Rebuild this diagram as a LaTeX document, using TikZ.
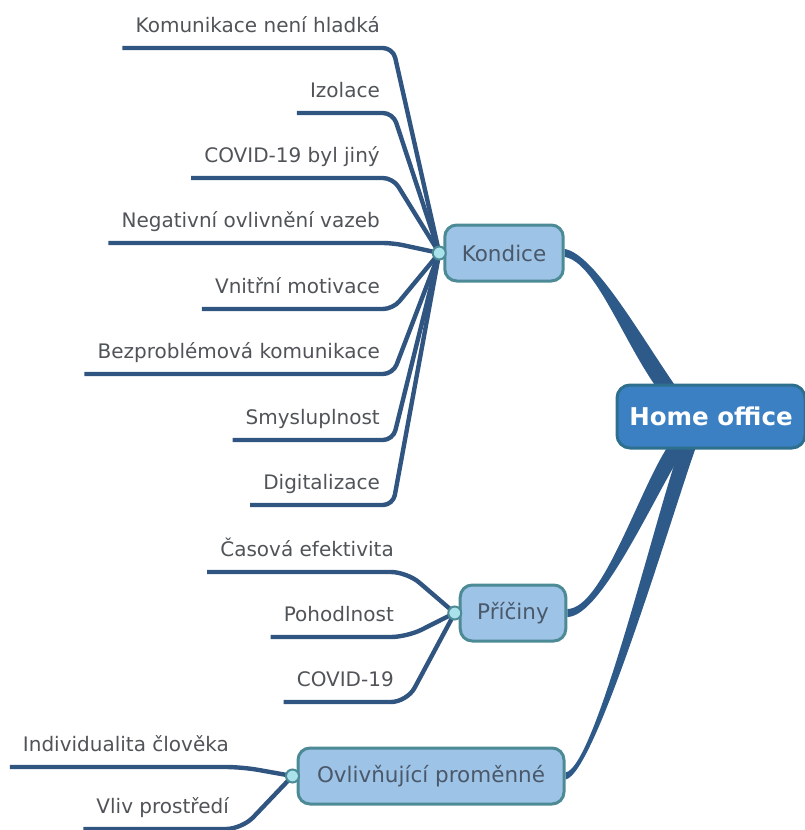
\documentclass[tikz,border=0pt]{standalone}
\usepackage{fontspec}
\setmainfont{DejaVu Sans}
\usepackage{xcolor}
\usetikzlibrary{calc,backgrounds}
\definecolor{rootfill}{HTML}{3C80C4}
\definecolor{rootline}{HTML}{2F6F8E}
\definecolor{subfill}{HTML}{9DC3E6}
\definecolor{subline}{HTML}{4C8A96}
\definecolor{subtext}{HTML}{4A586A}
\definecolor{branchblue}{HTML}{2E5A8A}
\definecolor{twigblue}{HTML}{2F5580}
\definecolor{hubfill}{HTML}{AAE2EC}
\definecolor{leaftext}{HTML}{505458}

% tapered branch: from, control from, control to, to, half width at from, half width at to
\newcommand{\branchto}[6]{%
  \fill[trunk] ($(#1)+(#5)$) .. controls +(#2) and +(#3) .. ($(#4)+(#6)$)
    -- ($(#4)-(#6)$) .. controls +(#3) and +(#2) .. ($(#1)-(#5)$) -- cycle;}

\begin{document}
\begin{tikzpicture}[
  x=1pt, y=-1pt,
  root/.style={draw=rootline, line width=3pt, fill=rootfill, rounded corners=13pt,
               text=white, font=\fontsize{24.5}{29}\selectfont\bfseries,
               minimum width=188pt, minimum height=63pt},
  sub/.style={draw=subline, line width=3pt, fill=subfill, rounded corners=12pt,
              text=subtext, font=\fontsize{21.5}{25}\selectfont,
              inner xsep=17pt, minimum height=56pt},
  hub/.style={circle, draw=subline, line width=2pt, fill=hubfill,
              minimum size=13pt, inner sep=0pt},
  leaf/.style={anchor=south east, text=leaftext, font=\fontsize{20}{24}\selectfont,
               inner xsep=13pt, inner ysep=0pt, text height=14pt, text depth=15pt},
  trunk/.style={fill=branchblue},
  twig/.style={draw=twigblue, line width=4.4pt}
]
\useasboundingbox (0,0) rectangle (805,830);

% main topic and subtopics
\node[root] (home) at (711,416.5) {Home office};
\node[sub] (kon) at (504,253) {Kondice};
\node[sub] (pri) at (513,613) {Příčiny};
\node[sub, minimum width=266pt] (ovl) at (431,776) {Ovlivňující proměnné};

\node[hub] (khub) at ([xshift=-4pt]kon.west) {};
\node[hub] (phub) at ([xshift=-4pt]pri.west) {};
\node[hub] (ohub) at ([xshift=-4pt]ovl.west) {};

% leaves
\foreach \n/\t/\y in {1/Komunikace není hladká/48, 2/Izolace/113,
    3/COVID-19 byl jiný/178, 4/Negativní ovlivnění vazeb/243,
    5/Vnitřní motivace/309, 6/Bezproblémová komunikace/374,
    7/Smysluplnost/440, 8/Digitalizace/505}
  \node[leaf] (k\n) at (393,\y) {\t};
\foreach \n/\t/\y in {1/Časová efektivita/572, 2/Pohodlnost/637, 3/COVID-19/702}
  \node[leaf] (p\n) at (407,\y) {\t};
\foreach \n/\t/\y in {1/Individualita člověka/767, 2/Vliv prostředí/829}
  \node[leaf] (o\n) at (242,\y) {\t};

\coordinate (kin) at ([xshift=51pt,yshift=-4pt]home.north west);
\coordinate (pin) at ([xshift=62pt,yshift=4pt]home.south west);
\coordinate (oin) at ([xshift=73pt,yshift=4pt]home.south west);

\begin{scope}[on background layer]
\branchto{kon.east}{30,5}{-35,-50}{kin}{0,-4}{10,0}
\branchto{pri.east}{35,0}{-30,45}{pin}{0,-4}{-9,0}
\branchto{ovl.east}{30,-5}{-25,70}{oin}{0,-3.5}{-8,0}

\foreach \i in {1,...,8}
  \draw[twig, rounded corners=10pt] (k\i.south west) -- (k\i.south east) -- (khub.center);
\foreach \i in {1,2,3}
  \draw[twig, rounded corners=16pt] (p\i.south west) -- (p\i.south east) -- (phub.center);
\foreach \i in {1,2}
  \draw[twig, rounded corners=16pt] (o\i.south west) -- (o\i.south east) -- (ohub.center);
\end{scope}
\end{tikzpicture}
\end{document}
